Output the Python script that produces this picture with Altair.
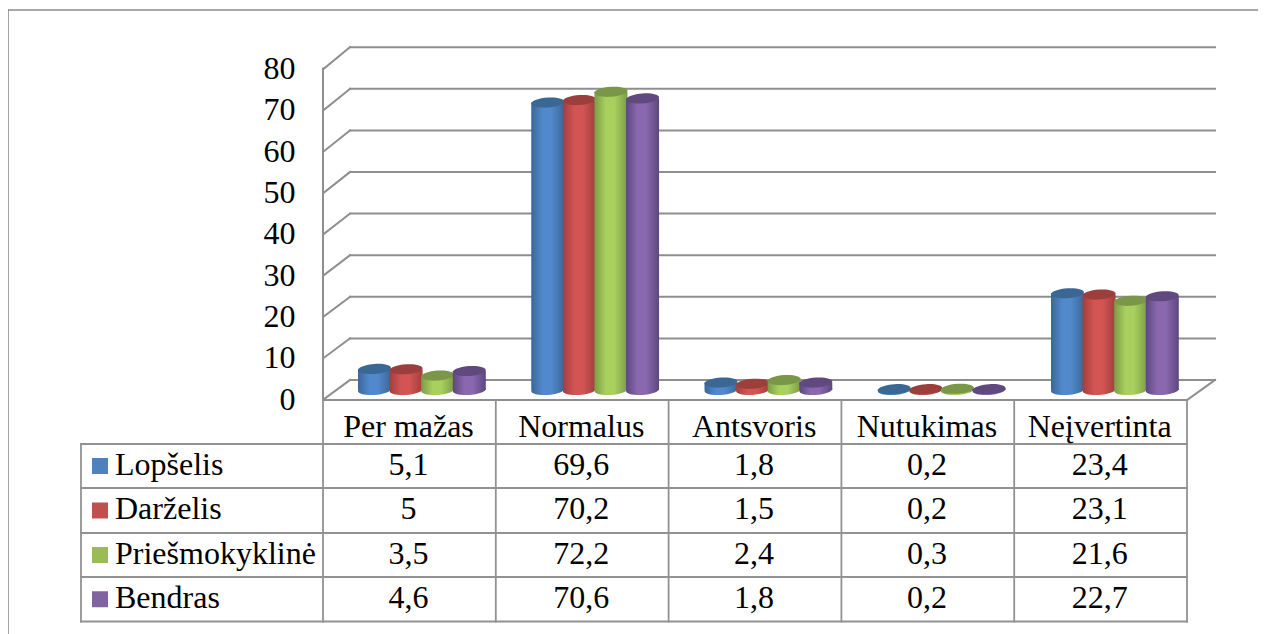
import altair as alt
import pandas as pd

categories = ["Per mažas", "Normalus", "Antsvoris", "Nutukimas", "Neįvertinta"]
series = ["Lopšelis", "Darželis", "Priešmokyklinė", "Bendras"]
lopselis = [5.1, 69.6, 1.8, 0.2, 23.4]
darzelis = [5, 70.2, 1.5, 0.2, 23.1]
priesmok = [3.5, 72.2, 2.4, 0.3, 21.6]
bendras = [4.6, 70.6, 1.8, 0.2, 22.7]
values = [lopselis, darzelis, priesmok, bendras]
ticks = [0, 10, 20, 30, 40, 50, 60, 70, 80]

flat = ["#4f81bd", "#c0504d", "#9bbb59", "#8064a2"]
edge = ["#3b6795", "#9a3f3c", "#7a9648", "#60497e"]
side_dark = ["#3a6797", "#a03f3c", "#7c9c46", "#5d477f"]
side_light = ["#5289cc", "#d25553", "#a9d05f", "#8a68b0"]

W, H = 1250, 626
PX_PER_CAT, PX_PER_UNIT = 172.6, 4.13


def X(px):
    return (px - 324) / PX_PER_CAT


def Y(px):
    return (399 - px) / PX_PER_UNIT


x_scale = alt.Scale(domain=[X(8), X(8 + W)], nice=False, zero=False)
y_scale = alt.Scale(domain=[Y(8 + H), Y(8)], nice=False, zero=False)
y_axis = alt.Axis(
    values=ticks, title=None, domain=False, ticks=False, grid=False,
    offset=-287, labelPadding=0, labelFont="Liberation Serif", labelFontSize=32,
    labelColor="black", labelOverlap=False, labelBound=False, labelFlush=False,
)
ax = alt.X("x:Q", scale=x_scale, axis=None)
ay = alt.Y("y:Q", scale=y_scale, axis=y_axis)


def lines(segments, color, width):
    rows = []
    for i, (x0, y0, x1, y1) in enumerate(segments):
        rows += [dict(id=i, o=0, x=X(x0), y=Y(y0)), dict(id=i, o=1, x=X(x1), y=Y(y1))]
    return alt.Chart(pd.DataFrame(rows)).mark_line(
        color=color, strokeWidth=width, strokeCap="square", interpolate="linear"
    ).encode(x=ax, y=ay, detail="id:N", order="o:Q")


def front_y(v):
    return 399 - v * PX_PER_UNIT


def back_y(v):
    return 380 - v * 4.16


# outer frame
frame = lines([(8, 10, 1258, 10), (8, 10, 8, 634)], "#8c8c8c", 1.6)

# walls and grid
wall = [(350, back_y(v), 1215, back_y(v)) for v in ticks]
wall += [(324, front_y(v), 350, back_y(v)) for v in ticks]
wall += [(323, front_y(80), 323, 400), (323, 400, 1187, 400), (1187, 400, 1215, 380)]
grid = lines(wall, "#8e8e8e", 2)

# cylinders
BASE = (399 - 390) / PX_PER_UNIT
CW = 33
PITCH = 31.6
ELL = "M-1,0.06A1,0.3,-4,1,1,1,-0.06A1,0.3,-4,1,1,-1,0.06Z"
layers = []
for s, vals in enumerate(values):
    rows = []
    for c, v in enumerate(vals):
        left = 358 + 173.25 * c + PITCH * s
        rows.append(dict(x=X(left), x2=X(left + CW), xc=X(left + CW / 2),
                         y=BASE + v, y2=BASE))
    d = pd.DataFrame(rows)
    grad = alt.LinearGradient(
        gradient="linear", x1=0, x2=1, y1=0, y2=0,
        stops=[
            alt.GradientStop(color=side_dark[s], offset=0),
            alt.GradientStop(color=side_light[s], offset=0.35),
            alt.GradientStop(color=side_light[s], offset=0.6),
            alt.GradientStop(color=side_dark[s], offset=1),
        ],
    )
    body = alt.Chart(d).mark_rect(fill=grad).encode(
        x=ax, x2="x2:Q", y=ay, y2="y2:Q"
    )
    bottom = alt.Chart(d).mark_point(
        shape=ELL, size=CW * CW, filled=True, fill=grad, opacity=1, strokeWidth=0
    ).encode(x=alt.X("xc:Q", scale=x_scale, axis=None),
             y=alt.Y("y2:Q", scale=y_scale, axis=y_axis))
    top = alt.Chart(d).mark_point(
        shape=ELL, size=CW * CW, filled=True, fill=edge[s], opacity=1, strokeWidth=0
    ).encode(x=alt.X("xc:Q", scale=x_scale, axis=None), y=ay)
    layers += [bottom, body, top]

# table grid
row_px = [400, 444, 488, 533, 577, 621.5]
col_px = [323 + 172.8 * i for i in range(6)]
tbl = [(81, p, 1187, p) for p in row_px[1:]]
tbl += [(81, 444, 81, 621.5)]
tbl += [(p, 400, p, 621.5) for p in col_px]
table = lines(tbl, "#929292", 1.8)

# table text
baselines = [437, 475, 519, 564, 608]
txt = []
for c, name in enumerate(categories):
    txt.append(dict(x=X(col_px[c] + 85.5), y=Y(baselines[0]), t=name))
    for s, vals in enumerate(values):
        txt.append(dict(x=X(col_px[c] + 85.5), y=Y(baselines[s + 1]),
                        t=str(vals[c]).replace(".", ",")))
cell_text = alt.Chart(pd.DataFrame(txt)).mark_text(
    font="Liberation Serif", fontSize=32, color="black", align="center", baseline="alphabetic"
).encode(x=ax, y=ay, text="t:N")

leg = pd.DataFrame([dict(x=X(115), y=Y(baselines[s + 1]), t=n) for s, n in enumerate(series)])
leg_text = alt.Chart(leg).mark_text(
    font="Liberation Serif", fontSize=32, color="black", align="left", baseline="alphabetic"
).encode(x=ax, y=ay, text="t:N")

swatches = alt.Chart(pd.DataFrame(
    [dict(x=X(100), y=Y((row_px[s + 1] + row_px[s + 2]) / 2), c=n) for s, n in enumerate(series)]
)).mark_square(size=256, opacity=1, strokeWidth=0).encode(
    x=ax, y=ay,
    color=alt.Color("c:N", scale=alt.Scale(domain=series, range=flat), legend=None),
)

chart = alt.layer(
    frame, grid, *layers, table, cell_text, leg_text, swatches
).properties(
    width=W, height=H, padding=0, background="white",
    autosize=alt.AutoSizeParams(type="none"),
).configure_view(stroke=None)

chart.save("out.html", embed_options={"renderer": "svg", "actions": False})
